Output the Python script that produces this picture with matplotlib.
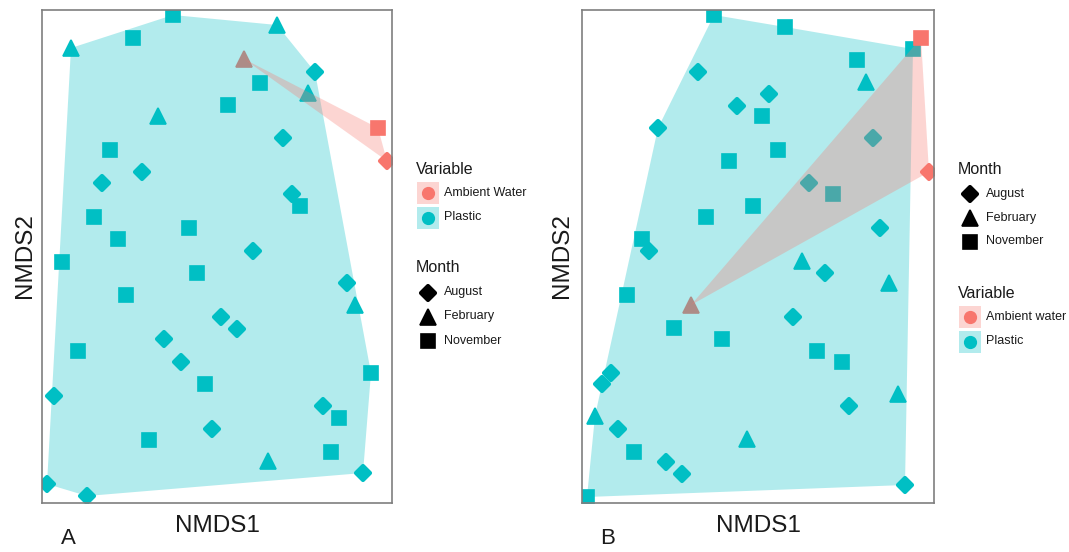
import matplotlib
matplotlib.use("Agg")
import matplotlib.pyplot as plt
from matplotlib.markers import MarkerStyle
from matplotlib.patches import Polygon, Rectangle
import numpy as np

plt.rcParams["font.family"] = ["Liberation Sans", "DejaVu Sans"]

CYAN = "#00BFC4"
RED = "#F8766D"
TXT = "#1a1a1a"

# NMDS scores (arbitrary units, axis spans 0..350 x 0..494)
# Panel A - plastic
a_aug_x = [273, 241, 100, 60, 250, 211, 305, 179, 195, 122, 139, 12, 281, 170, 321, 5, 45]
a_aug_y = [431, 365, 331, 320, 309, 252, 220, 186, 174, 164, 141, 107, 97, 74, 30, 19, 7]
a_feb_x = [29, 235, 266, 116, 313, 226]
a_feb_y = [455, 478, 410, 387, 198, 42]
a_nov_x = [91, 131, 218, 186, 68, 258, 52, 147, 76, 20, 155, 84, 36, 329, 163, 297, 107, 289]
a_nov_y = [465, 488, 420, 398, 353, 297, 286, 275, 264, 241, 230, 208, 152, 130, 119, 85, 63, 51]
# Panel A - ambient water (August, February, November)
a_amb_x = [345, 202, 336]
a_amb_y = [342, 444, 375]

# Panel B - plastic
b_aug_x = [116, 187, 155, 76, 291, 227, 298, 67, 243, 211, 29, 20, 267, 36, 84, 100, 323]
b_aug_y = [431, 409, 397, 375, 365, 320, 275, 252, 230, 186, 130, 119, 97, 74, 41, 29, 18]
b_feb_x = [284, 220, 307, 316, 13, 165]
b_feb_y = [421, 242, 220, 109, 87, 64]
b_nov_x = [132, 203, 331, 275, 180, 196, 147, 251, 171, 124, 60, 45, 92, 140, 235, 260, 52, 5]
b_nov_y = [488, 476, 454, 443, 387, 353, 342, 309, 297, 286, 264, 208, 175, 164, 152, 141, 51, 6]
# Panel B - ambient water (August, February, November)
b_amb_x = [347, 109, 339]
b_amb_y = [331, 198, 465]

MONTHS = ["August", "February", "November"]

MARKERS = {"August": (lambda: MarkerStyle("D", joinstyle="round"), 7.3, 3.0),
           "February": (lambda: MarkerStyle("^"), 11.5, 1.2),
           "November": (lambda: MarkerStyle("s"), 9.4, 1.2)}


def hull(xs, ys):
    pts = sorted(set(zip(xs, ys)))
    if len(pts) < 3:
        return pts

    def cross(o, a, b):
        return (a[0] - o[0]) * (b[1] - o[1]) - (a[1] - o[1]) * (b[0] - o[0])

    lower, upper = [], []
    for p in pts:
        while len(lower) >= 2 and cross(lower[-2], lower[-1], p) <= 0:
            lower.pop()
        lower.append(p)
    for p in reversed(pts):
        while len(upper) >= 2 and cross(upper[-2], upper[-1], p) <= 0:
            upper.pop()
        upper.append(p)
    return lower[:-1] + upper[:-1]


def draw_point(ax, x, y, month, color):
    mk, ms, mew = MARKERS[month]
    ax.plot(x, y, linestyle="none", marker=mk(), markersize=ms, color=color,
            markeredgecolor=color, markeredgewidth=mew)


def panel(ax, aug, feb, nov, amb, xmax):
    for (xs, ys), m in zip([aug, feb, nov], MONTHS):
        draw_point(ax, xs, ys, m, CYAN)
    for x, y, m in zip(amb[0], amb[1], MONTHS):
        draw_point(ax, [x], [y], m, RED)
    all_x = aug[0] + feb[0] + nov[0]
    all_y = aug[1] + feb[1] + nov[1]
    ax.add_patch(Polygon(hull(all_x, all_y), closed=True, facecolor=CYAN, alpha=0.3,
                         edgecolor="none", zorder=3))
    ax.add_patch(Polygon(hull(amb[0], amb[1]), closed=True, facecolor=RED, alpha=0.3,
                         edgecolor="none", zorder=3))
    ax.set_xlim(0, xmax)
    ax.set_ylim(0, 493.5)
    ax.set_xticks([])
    ax.set_yticks([])
    for s in ax.spines.values():
        s.set_color("#7f7f7f")
        s.set_linewidth(1.2)


W, H = 1069, 552
fig = plt.figure(figsize=(W / 100, H / 100), dpi=100)

axA = fig.add_axes([42 / W, 49 / H, 350 / W, 493.5 / H])
axB = fig.add_axes([582 / W, 49 / H, 352 / W, 493.5 / H])
panel(axA, (a_aug_x, a_aug_y), (a_feb_x, a_feb_y), (a_nov_x, a_nov_y), (a_amb_x, a_amb_y), 350)
panel(axB, (b_aug_x, b_aug_y), (b_feb_x, b_feb_y), (b_nov_x, b_nov_y), (b_amb_x, b_amb_y), 352)

# labels
for cx in [217, 758]:
    fig.text(cx / W, 1 - 526 / H, "NMDS1", ha="center", va="center", fontsize=17.5, color=TXT)
fig.text(25 / W, 1 - 256 / H, "NMDS2", ha="center", va="center", rotation=90, fontsize=17.5, color=TXT)
fig.text(562 / W, 1 - 256 / H, "NMDS2", ha="center", va="center", rotation=90, fontsize=17.5, color=TXT)
fig.text(68 / W, 1 - 539 / H, "A", ha="center", va="center", fontsize=16, color=TXT)
fig.text(608 / W, 1 - 539 / H, "B", ha="center", va="center", fontsize=16, color=TXT)

# legends drawn on an overlay in pixel space
lg = fig.add_axes([0, 0, 1, 1], facecolor="none")
lg.set_xlim(0, W)
lg.set_ylim(H, 0)
lg.axis("off")


def variable_legend(x, y, labels):
    lg.text(x, y, "Variable", fontsize=11.5, color=TXT, va="center", ha="left")
    for i, (lab, col) in enumerate(zip(labels, [RED, CYAN])):
        yy = y + 24 + 24.5 * i
        lg.add_patch(Rectangle((x + 1, yy - 11), 22, 22, facecolor=col, alpha=0.3, edgecolor="none"))
        lg.plot([x + 12], [yy], marker="o", markersize=8.5, color=col, linestyle="none")
        lg.text(x + 28, yy, lab, fontsize=9, color=TXT, va="center", ha="left")


def month_legend(x, y):
    lg.text(x, y, "Month", fontsize=11.5, color=TXT, va="center", ha="left")
    for i, m in enumerate(MONTHS):
        yy = y + 24.5 + 24 * i
        mk, ms, mew = MARKERS[m]
        lg.plot([x + 12], [yy], linestyle="none", marker=mk(), markersize=ms, color="black",
                markeredgecolor="black", markeredgewidth=mew)
        lg.text(x + 28, yy, m, fontsize=9, color=TXT, va="center", ha="left")


variable_legend(416, 169, ["Ambient Water", "Plastic"])
month_legend(416, 268)
month_legend(958, 169)
variable_legend(958, 293, ["Ambient water", "Plastic"])

fig.savefig("out.png", dpi=100)
